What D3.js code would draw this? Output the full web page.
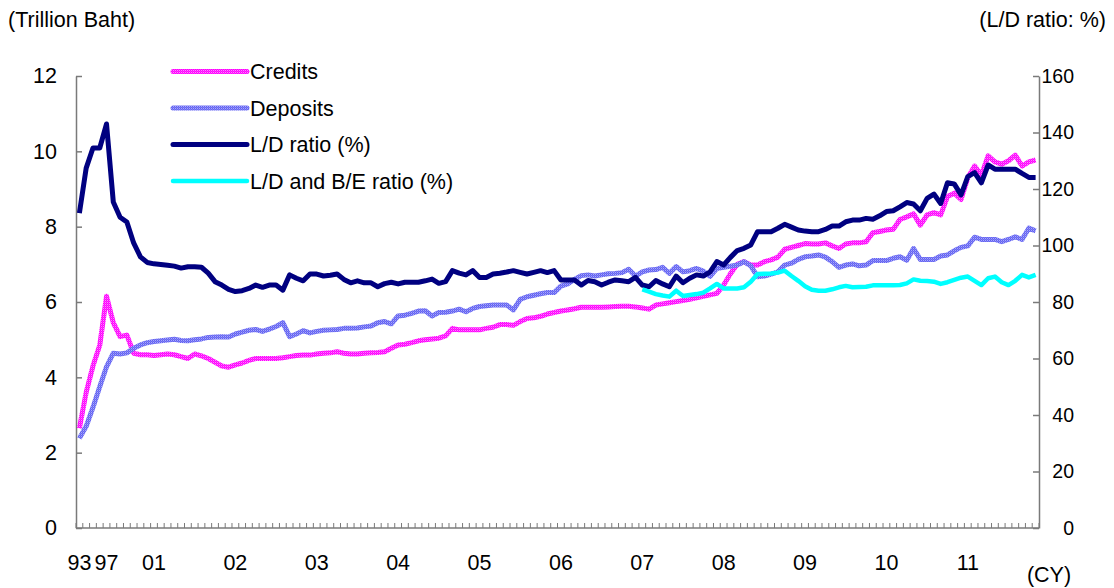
<!DOCTYPE html>
<html>
<head>
<meta charset="utf-8">
<script src="https://cdn.jsdelivr.net/npm/d3@7"></script>
<style>
  body { margin: 0; background: #fff; }
  svg { display: block; font-family: 'Liberation Sans', Arial, sans-serif; }
</style>
</head>
<body>
<div id="chart"></div>
<script>
// categories: annual 93-97, half-years 98-00, then monthly Jan 2001 .. Nov 2011
const annual = ['1993', '1994', '1995', '1996', '1997']
const halves = ['1998H1', '1998H2', '1999H1', '1999H2', '2000H1', '2000H2']
const months = []
for (let y = 2001; y <= 2011; y++) {
    for (let m = 1; m <= 12; m++) {
        if (y === 2011 && m > 11) break
        months.push(`${y}-${String(m).padStart(2, '0')}`)
    }
}
const categories = [...annual, ...halves, ...months]

const xTickLabels = [
    ['1993', '93'], ['1997', '97'], ['2001-01', '01'], ['2002-01', '02'], ['2003-01', '03'],
    ['2004-01', '04'], ['2005-01', '05'], ['2006-01', '06'], ['2007-01', '07'], ['2008-01', '08'],
    ['2009-01', '09'], ['2010-01', '10'], ['2011-01', '11']
]
const leftTicks = [0, 2, 4, 6, 8, 10, 12]
const rightTicks = [0, 20, 40, 60, 80, 100, 120, 140, 160]

// trillion baht
const credits = [
    2.65, 3.6, 4.3, 4.85, 6.15, 5.45, 5.08, 5.12, 4.64, 4.6, 4.6,
    4.58, 4.6, 4.62, 4.6, 4.55, 4.5, 4.62, 4.57, 4.5, 4.4,
    4.3, 4.27, 4.33, 4.38, 4.45, 4.5, 4.5, 4.5, 4.5, 4.52,
    4.55, 4.58, 4.59, 4.59, 4.62, 4.64, 4.65, 4.68, 4.64, 4.62,
    4.62, 4.64, 4.65, 4.66, 4.68, 4.77, 4.86, 4.88, 4.92, 4.97,
    5.0, 5.02, 5.04, 5.1, 5.3, 5.26, 5.26, 5.26, 5.26, 5.3,
    5.33, 5.4, 5.4, 5.38, 5.48, 5.56, 5.58, 5.62, 5.68, 5.72,
    5.76, 5.79, 5.82, 5.86, 5.86, 5.86, 5.86, 5.87, 5.88, 5.89,
    5.89, 5.87, 5.84, 5.81, 5.92, 5.95, 5.98, 6.01, 6.04, 6.07,
    6.11, 6.15, 6.19, 6.23, 6.45, 6.75, 7.0, 7.07, 6.98, 6.98,
    7.07, 7.12, 7.19, 7.4, 7.45, 7.5, 7.55, 7.54, 7.54, 7.57,
    7.49, 7.42, 7.54, 7.57, 7.57, 7.6, 7.84, 7.87, 7.91, 7.93,
    8.19, 8.26, 8.34, 8.04, 8.31, 8.37, 8.31, 8.8, 8.89, 8.72,
    9.3, 9.61, 9.37, 9.88, 9.72, 9.66, 9.75, 9.9, 9.61, 9.72, 9.77
]
const deposits = [
    2.38, 2.7, 3.2, 3.75, 4.28, 4.64, 4.62, 4.65, 4.77, 4.86, 4.92,
    4.95, 4.97, 4.99, 5.01, 4.98, 4.97, 5.0, 5.02, 5.06, 5.07,
    5.08, 5.07, 5.15, 5.2, 5.25, 5.27, 5.22, 5.28, 5.35, 5.45,
    5.08, 5.15, 5.24, 5.18, 5.22, 5.25, 5.26, 5.27, 5.3, 5.3,
    5.31, 5.34, 5.36, 5.45, 5.48, 5.42, 5.63, 5.65, 5.7, 5.76,
    5.77, 5.63, 5.72, 5.73, 5.76, 5.81, 5.74, 5.83, 5.88, 5.9,
    5.92, 5.92, 5.92, 5.79, 6.07, 6.14, 6.18, 6.22, 6.25, 6.25,
    6.42, 6.48, 6.6, 6.7, 6.72, 6.69, 6.72, 6.75, 6.76, 6.78,
    6.87, 6.69, 6.8, 6.85, 6.86, 6.92, 6.76, 6.94, 6.8, 6.83,
    6.89, 6.82, 6.68, 6.89, 6.92, 6.95, 6.98, 7.07, 6.96, 6.67,
    6.69, 6.74, 6.8, 6.98, 7.03, 7.13, 7.2, 7.22, 7.25, 7.19,
    7.07, 6.92, 6.98, 7.01, 6.96, 6.98, 7.1, 7.1, 7.1, 7.16,
    7.2, 7.11, 7.42, 7.13, 7.13, 7.13, 7.22, 7.25, 7.36, 7.45,
    7.49, 7.72, 7.66, 7.66, 7.66, 7.6, 7.66, 7.73, 7.66, 7.96, 7.89
]
// percent, right axis
const ldRatio = [
    111.5, 127.4, 134.5, 134.5, 143, 115.4, 110, 108.3, 100.9, 96, 94,
    93.5, 93.3, 93, 92.7, 92, 92.5, 92.5, 92.3, 90.2, 87.2,
    86, 84.5, 83.7, 84, 84.8, 86, 85.2, 86, 86, 84.2,
    89.6, 88.4, 87.5, 89.9, 89.9, 89.2, 89.5, 89.9, 88, 86.8,
    87.5, 86.8, 86.8, 85.4, 86.5, 87, 86.4, 87, 87, 87,
    87.5, 88.1, 86.6, 87.2, 91.1, 90.2, 89.6, 91.1, 88.7, 88.7,
    89.9, 90.2, 90.6, 91.1, 90.5, 89.9, 90.5, 91.1, 90.4, 91.1,
    87.8, 87.8, 87.8, 86, 87.6, 87.2, 86, 87, 87.8, 87.5,
    87.2, 88.7, 86, 85.4, 87.6, 86.4, 85.4, 89.2, 86.8, 88.4,
    89.6, 89.2, 90.7, 94.3, 93.1, 95.8, 98.2, 99, 100.2, 104.9,
    104.9, 104.9, 106.1, 107.5, 106.5, 105.5, 105.1, 104.9, 104.9, 105.7,
    106.9, 106.9, 108.4, 109, 109, 109.6, 109.3, 110.5, 112, 112.3,
    113.7, 115.2, 114.7, 112.3, 116.7, 118.2, 114.9, 122.2, 121.8, 117.9,
    124.4, 125.8, 122.2, 128.5, 127, 127, 127, 127, 125.5, 124.1, 124.1
]
// starts Jan 2007
const ldbeStart = '2007-01'
const ldbeRatio = [
    84.5, 83.7, 82.8, 82.3, 81.9, 84, 82.1, 82.5, 82.8, 83.3,
    84.8, 86.4, 84.8, 84.8, 84.8, 85.2, 87.2, 89.9, 90, 90.1,
    90.4, 91.1, 89.2, 87.5, 85.6, 84.3, 84, 84, 84.5, 85.2,
    85.7, 85.2, 85.3, 85.4, 85.9, 85.9, 85.9, 85.9, 86, 86.6,
    88, 87.5, 87.4, 87.2, 86.4, 87, 87.8, 88.6, 89, 87.5,
    86, 88.4, 89, 87, 86, 87.5, 89.6, 88.7, 89.6
]

const width = 1114
const height = 588
const plot = { left: 76, right: 1039, top: 76, bottom: 528 }
const fontSize = 21.5

const svg = d3.select('#chart').append('svg')
    .attr('width', width)
    .attr('height', height)

// dotted fills like excel's patterned lines for credits / deposits
const defs = svg.append('defs')
function checker (id, cells) {
    const p = defs.append('pattern').attr('id', id)
        .attr('patternUnits', 'userSpaceOnUse')
        .attr('width', 2).attr('height', 2)
    cells.forEach((c, i) => {
        p.append('rect').attr('x', i % 2).attr('y', Math.floor(i / 2))
            .attr('width', 1).attr('height', 1).attr('fill', c)
    })
}
checker('patCredits', ['#ff00ff', '#ff88ff', '#ff33ff', '#ff00ff'])
checker('patDeposits', ['#6262ee', '#a8a8ff', '#7c7cff', '#6a6ae6'])

const x = d3.scaleBand().domain(categories).range([plot.left, plot.right]).paddingInner(0).paddingOuter(0)
const xc = c => x(c) + x.bandwidth() / 2
const yL = d3.scaleLinear().domain([0, 12]).range([plot.bottom, plot.top])
const yR = d3.scaleLinear().domain([0, 160]).range([plot.bottom, plot.top])

const axisColor = '#7a7a7a'

// left axis
const gL = svg.append('g').attr('transform', `translate(${plot.left}, 0)`)
    .call(d3.axisLeft(yL).tickValues(leftTicks).tickSizeInner(-6).tickSizeOuter(0).tickPadding(19))
gL.select('.domain').attr('stroke', axisColor).attr('stroke-width', 1.5)
gL.selectAll('.tick line').attr('stroke', axisColor).attr('stroke-width', 1.5)
gL.selectAll('text').attr('font-size', fontSize).attr('fill', '#000').attr('font-family', null)

// right axis
const gR = svg.append('g').attr('transform', `translate(${plot.right}, 0)`)
    .call(d3.axisRight(yR).tickValues(rightTicks).tickSizeInner(-6).tickSizeOuter(0).tickPadding(0))
gR.select('.domain').attr('stroke', axisColor).attr('stroke-width', 1.5)
gR.selectAll('.tick line').attr('stroke', axisColor).attr('stroke-width', 1.5)
gR.selectAll('text').attr('font-size', 19.5).attr('fill', '#000').attr('font-family', null)
    .attr('text-anchor', 'end').attr('x', 35)

// bottom axis: tick marks on category boundaries, labels only for some categories
const gB = svg.append('g')
gB.append('line')
    .attr('x1', plot.left).attr('x2', plot.right)
    .attr('y1', plot.bottom).attr('y2', plot.bottom)
    .attr('stroke', axisColor).attr('stroke-width', 1.5)
gB.selectAll('line.tk').data(categories.concat(['end'])).enter().append('line')
    .attr('class', 'tk')
    .attr('x1', (d, i) => i < categories.length ? x(d) : plot.right)
    .attr('x2', (d, i) => i < categories.length ? x(d) : plot.right)
    .attr('y1', plot.bottom - 5).attr('y2', plot.bottom)
    .attr('stroke', axisColor).attr('stroke-width', 1)
gB.selectAll('text').data(xTickLabels).enter().append('text')
    .attr('x', d => xc(d[0]))
    .attr('y', 570)
    .attr('text-anchor', 'middle')
    .attr('font-size', fontSize)
    .text(d => d[1])

// series
const lineL = d3.line().x((d, i) => xc(categories[i])).y(d => yL(d))
const lineR = d3.line().x((d, i) => xc(categories[i])).y(d => yR(d))
const startIdx = categories.indexOf(ldbeStart)
const lineBE = d3.line().x((d, i) => xc(categories[startIdx + i])).y(d => yR(d))

svg.append('path').attr('d', lineL(credits))
    .attr('fill', 'none').attr('stroke', 'url(#patCredits)')
    .attr('stroke-width', 5).attr('stroke-linejoin', 'round')
svg.append('path').attr('d', lineL(deposits))
    .attr('fill', 'none').attr('stroke', 'url(#patDeposits)')
    .attr('stroke-width', 5).attr('stroke-linejoin', 'round')
svg.append('path').attr('d', lineR(ldRatio))
    .attr('fill', 'none').attr('stroke', '#000080')
    .attr('stroke-width', 5).attr('stroke-linejoin', 'round')
svg.append('path').attr('d', lineBE(ldbeRatio))
    .attr('fill', 'none').attr('stroke', '#00ffff')
    .attr('stroke-width', 4.5).attr('stroke-linejoin', 'round')

// legend
const legend = [
    { name: 'Credits', stroke: 'url(#patCredits)', w: 5 },
    { name: 'Deposits', stroke: 'url(#patDeposits)', w: 5 },
    { name: 'L/D ratio (%)', stroke: '#000080', w: 5 },
    { name: 'L/D and B/E ratio (%)', stroke: '#00ffff', w: 4.5 }
]
const lg = svg.append('g')
lg.selectAll('line').data(legend).enter().append('line')
    .attr('x1', 173).attr('x2', 247)
    .attr('y1', (d, i) => 71.5 + i * 36.5).attr('y2', (d, i) => 71.5 + i * 36.5)
    .attr('stroke', d => d.stroke).attr('stroke-width', d => d.w).attr('stroke-linecap', 'round')
lg.selectAll('text').data(legend).enter().append('text')
    .attr('x', 250)
    .attr('y', (d, i) => 71.5 + i * 36.5 + 7.5)
    .attr('font-size', fontSize)
    .text(d => d.name)

// unit captions
svg.append('text').attr('x', 8).attr('y', 27).attr('font-size', fontSize).text('(Trillion Baht)')
svg.append('text').attr('x', 1106).attr('y', 27).attr('font-size', fontSize)
    .attr('text-anchor', 'end').text('(L/D ratio: %)')
svg.append('text').attr('x', 1049).attr('y', 582).attr('font-size', fontSize)
    .attr('text-anchor', 'middle').text('(CY)')
</script>
</body>
</html>
